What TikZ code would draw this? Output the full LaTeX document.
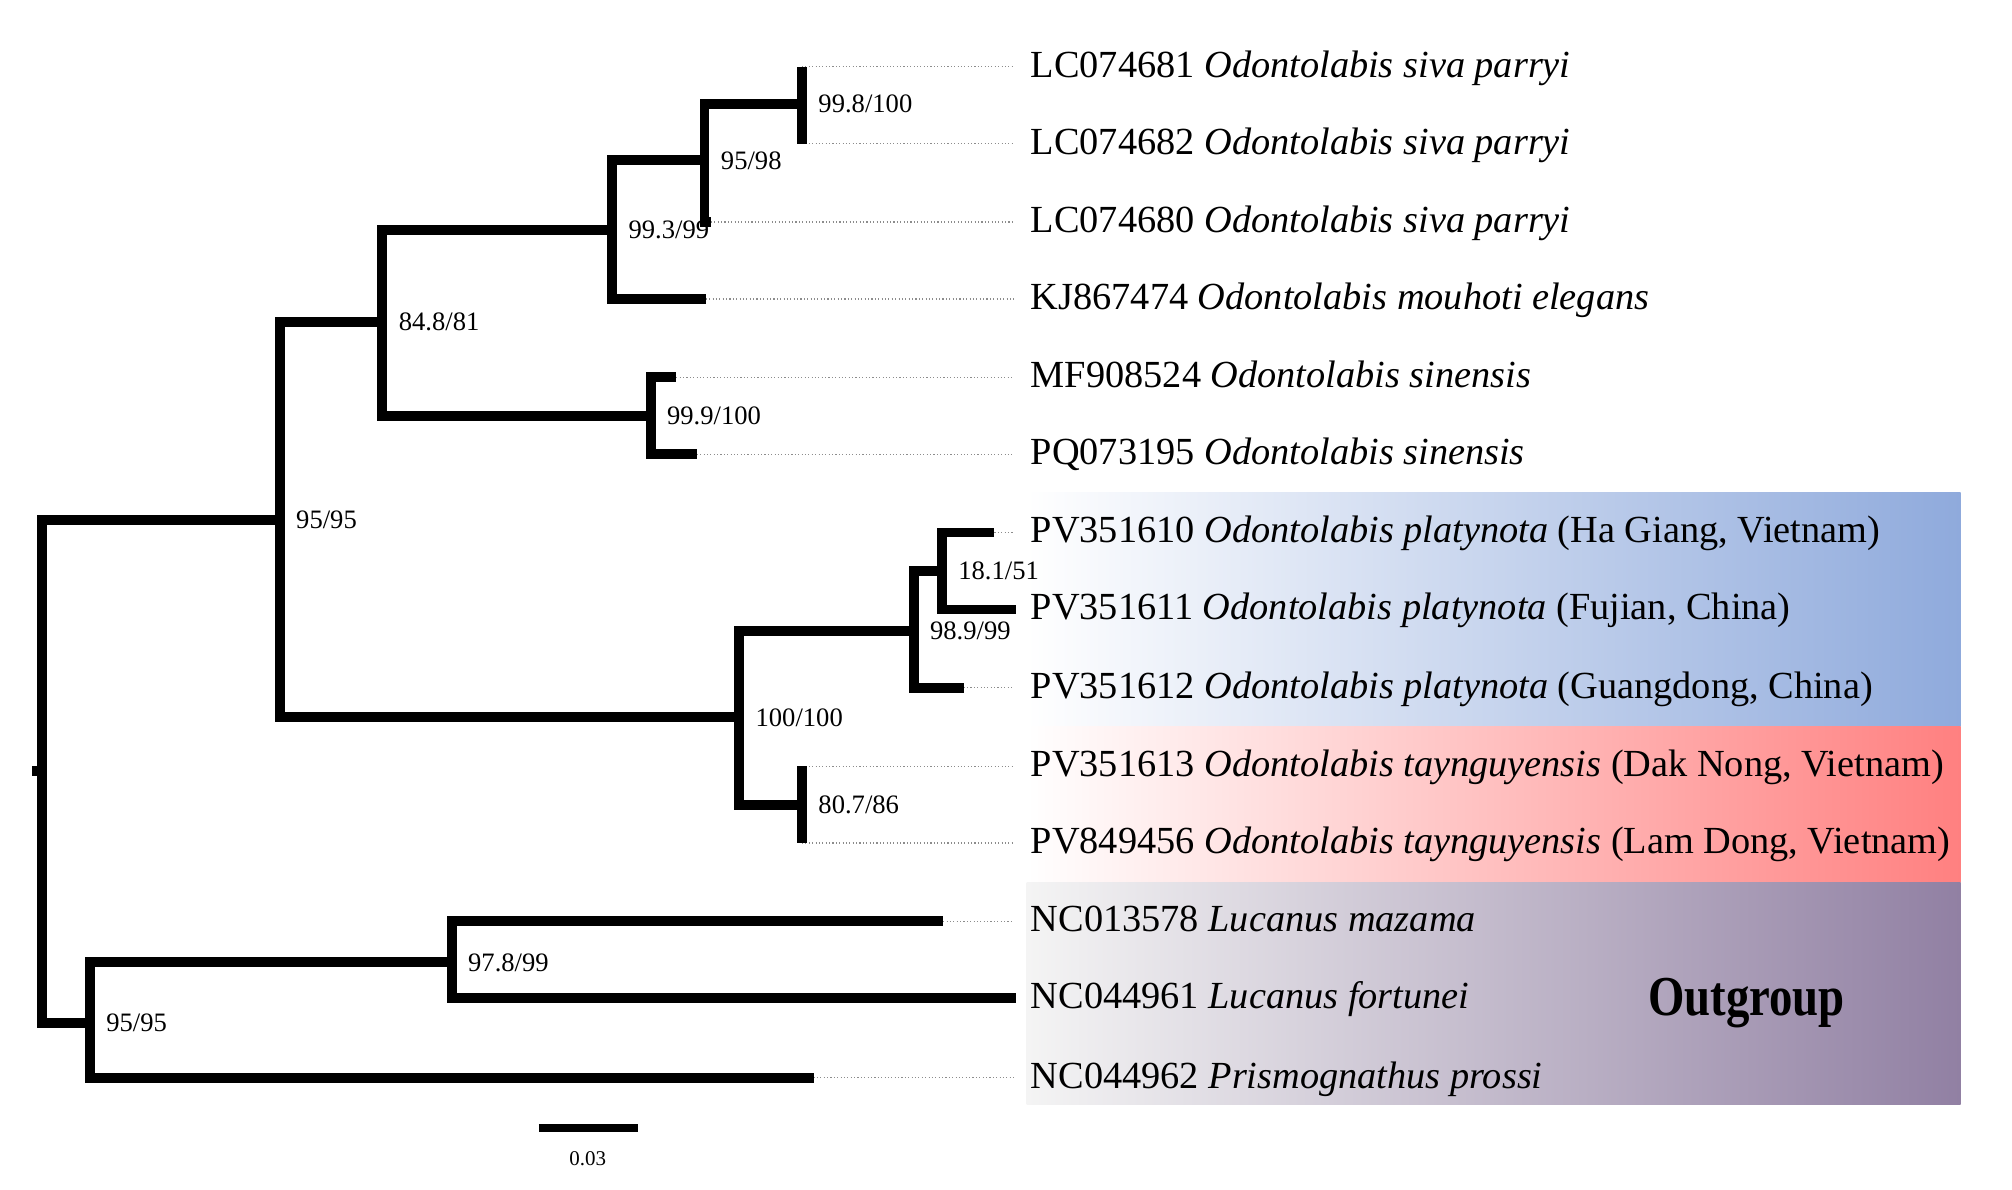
\documentclass[tikz,border=0pt]{standalone}
\usepackage{fontspec}
\setmainfont{Liberation Serif}
\definecolor{platblue}{RGB}{143,170,220}
\definecolor{taynred}{RGB}{255,128,128}
\definecolor{outpurple}{RGB}{145,128,163}
\definecolor{outgray}{RGB}{244,244,244}
\begin{document}
\begin{tikzpicture}[x=0.02cm, y=-0.02cm,
        branch/.style={line width=4.4pt, line join=miter, to path={|- (\tikztotarget) \tikztonodes}},
        leader/.style={densely dotted, black!45, line width=0.5pt, shorten >=0.26cm},
        tip/.style={anchor=west, inner sep=0pt, text height=0.92em, text depth=0pt, font=\fontsize{17}{20}\selectfont},
        support/.style={anchor=west, inner sep=0pt, xshift=0.25cm, font=\fontsize{11.8}{14}\selectfont}]
        \useasboundingbox (0,0) rectangle (1568,927);

          \shade[left color=white, middle color=platblue!28!white, right color=platblue] (800,384) rectangle (1528,566);
          \shade[left color=white, middle color=taynred!35!white, right color=taynred] (800,566) rectangle (1528,688);
          \shade[left color=outgray, right color=outpurple] (800,688) rectangle (1528,861);

          \coordinate (R) at (33,601);
          \coordinate (r0) at (25,601);
          \coordinate (A) at (218,405);
          \coordinate (B) at (298,251);
          \coordinate (C) at (477,179);
          \coordinate (D) at (549,125);
          \coordinate (E) at (625,81);
          \coordinate (F) at (507,324);
          \coordinate (G) at (576,559);
          \coordinate (H) at (712,492);
          \coordinate (I) at (734,445);
          \coordinate (J) at (625,627);
          \coordinate (K) at (70,797);
          \coordinate (L) at (352,750);

          \coordinate (t1) at (625,52);
          \coordinate (t2) at (625,112);
          \coordinate (t3) at (554,173);
          \coordinate (t4) at (550,233);
          \coordinate (t5) at (527,294);
          \coordinate (t6) at (543,354);
          \coordinate (t7) at (775,415);
          \coordinate (t8) at (792,475);
          \coordinate (t9) at (751,536);
          \coordinate (t10) at (625,597);
          \coordinate (t11) at (625,657);
          \coordinate (t12) at (735,718);
          \coordinate (t13) at (792,778);
          \coordinate (t14) at (634,840);

          \node[tip] (l1) at (803,52) {LC074681 \textit{Odontolabis siva parryi}};
          \node[tip] (l2) at (803,112) {LC074682 \textit{Odontolabis siva parryi}};
          \node[tip] (l3) at (803,173) {LC074680 \textit{Odontolabis siva parryi}};
          \node[tip] (l4) at (803,233) {KJ867474 \textit{Odontolabis mouhoti elegans}};
          \node[tip] (l5) at (803,294) {MF908524 \textit{Odontolabis sinensis}};
          \node[tip] (l6) at (803,354) {PQ073195 \textit{Odontolabis sinensis}};
          \node[tip] (l7) at (803,415) {PV351610 \textit{Odontolabis platynota} (Ha Giang, Vietnam)};
          \node[tip] (l8) at (803,475) {PV351611 \textit{Odontolabis platynota} (Fujian, China)};
          \node[tip] (l9) at (803,536) {PV351612 \textit{Odontolabis platynota} (Guangdong, China)};
          \node[tip] (l10) at (803,597) {PV351613 \textit{Odontolabis taynguyensis} (Dak Nong, Vietnam)};
          \node[tip] (l11) at (803,657) {PV849456 \textit{Odontolabis taynguyensis} (Lam Dong, Vietnam)};
          \node[tip] (l12) at (803,718) {NC013578 \textit{Lucanus mazama}};
          \node[tip] (l13) at (803,778) {NC044961 \textit{Lucanus fortunei}};
          \node[tip] (l14) at (803,840) {NC044962 \textit{Prismognathus prossi}};

          \foreach \i in {1,...,7,9,10,11,12,14}
            \draw[leader] (t\i) -- (l\i.west);

          \path[branch] (R) edge (A) edge (K) edge (r0);
          \path[branch] (A) edge (B) edge (G);
          \path[branch] (B) edge (C) edge (F);
          \path[branch] (C) edge (D) edge (t4);
          \path[branch] (D) edge (E) edge (t3);
          \path[branch] (E) edge (t1) edge (t2);
          \path[branch] (F) edge (t5) edge (t6);
          \path[branch] (G) edge (H) edge (J);
          \path[branch] (H) edge (I) edge (t9);
          \path[branch] (I) edge (t7) edge (t8);
          \path[branch] (J) edge (t10) edge (t11);
          \path[branch] (K) edge (L) edge (t14);
          \path[branch] (L) edge (t12) edge (t13);

          \node[support] (sA) at (A) {95/95};
          \node[support] (sB) at (B) {84.8/81};
          \node[support] (sC) at (C) {99.3/99};
          \node[support] (sD) at (D) {95/98};
          \node[support] (sE) at (E) {99.8/100};
          \node[support] (sF) at (F) {99.9/100};
          \node[support] (sG) at (G) {100/100};
          \node[support] (sH) at (H) {98.9/99};
          \node[support] (sI) at (I) {18.1/51};
          \node[support] (sJ) at (J) {80.7/86};
          \node[support] (sK) at (K) {95/95};
          \node[support] (sL) at (L) {97.8/99};

          \node[anchor=base, inner sep=0pt, font=\bfseries\fontsize{25}{28}\selectfont] (og) at (1361,791) {\scalebox{0.83}[1]{Outgroup}};

          \coordinate (s0) at (420,879);
          \coordinate (s1) at (497,879);
          \draw[line width=3.4pt] (s0) -- (s1);
          \node[font=\fontsize{9.3}{11}\selectfont] (scl) at (458,903) {0.03};

\end{tikzpicture}
\end{document}
